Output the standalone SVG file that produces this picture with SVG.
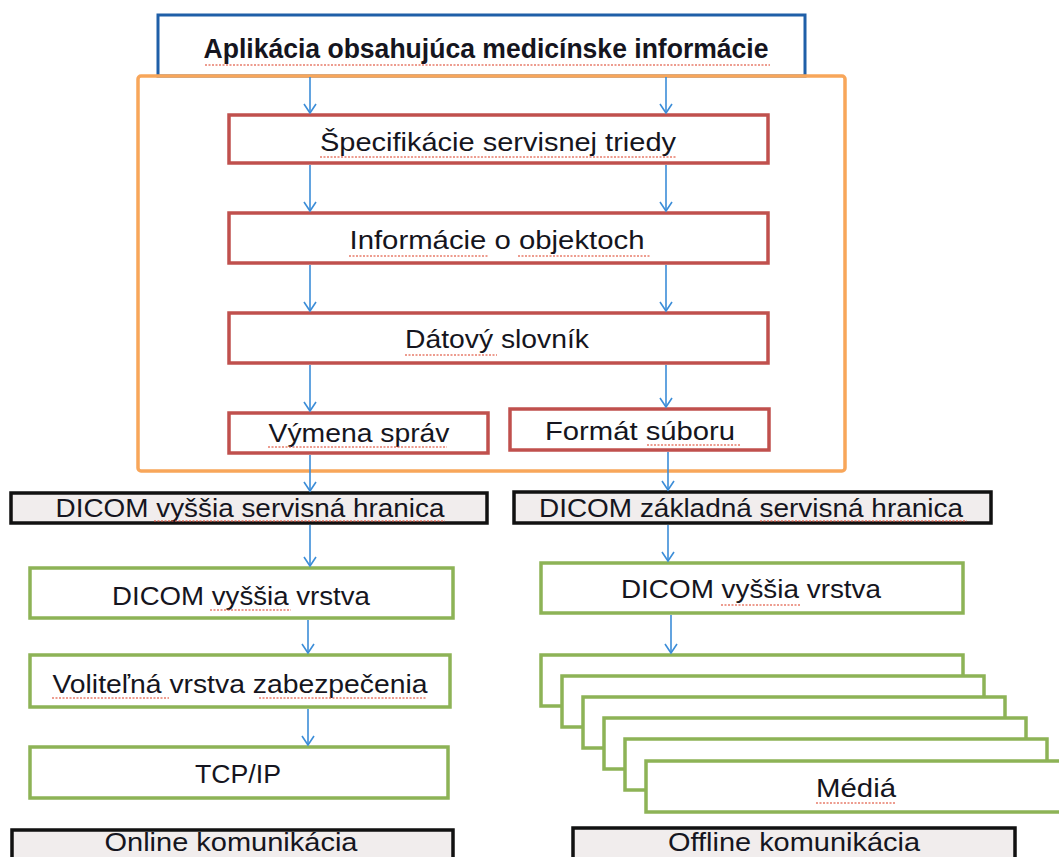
<svg xmlns="http://www.w3.org/2000/svg" width="1059" height="857" viewBox="0 0 1059 857">
<style>
  .t{font-family:"Liberation Sans",Arial,sans-serif;font-size:25px;fill:#151520;text-anchor:middle}
  .title{font-weight:bold;font-size:28px}
  .red{fill:#fff;stroke:#C0504D;stroke-width:3.5}
  .grn{fill:#fff;stroke:#8DB356;stroke-width:3.5}
  .blk{fill:#f1eded;stroke:#111;stroke-width:3.5}
  .conn line{stroke:#3C8DD8;stroke-width:1.6;fill:none}
  .sp{stroke:#E0503A;stroke-width:1.3;stroke-dasharray:2 1.5;opacity:.75}
</style>
<defs>
  <marker id="ah" markerUnits="userSpaceOnUse" markerWidth="12" markerHeight="14" viewBox="0 -7 12 14" refX="10" refY="0" orient="auto">
    <path d="M1,-6 L10,0 L1,6" fill="none" stroke="#3C8DD8" stroke-width="1.6"/>
  </marker>
</defs>
<rect width="1059" height="857" fill="#fff"/>

<g id="app">
  <rect x="158" y="15" width="647" height="61" fill="#fff" stroke="#1F5FA8" stroke-width="3"/>
  <text class="t title" x="486" y="58" textLength="565" lengthAdjust="spacingAndGlyphs">Aplikácia obsahujúca medicínske informácie</text>
  <line class="sp" x1="205" y1="65" x2="770" y2="65"/>
</g>

<g id="dicom-container">
  <rect x="138" y="76" width="707" height="395" rx="3" fill="none" stroke="#F8A65A" stroke-width="3.5"/>
</g>

<g id="spec">
  <rect class="red" x="229" y="115" width="539" height="48"/>
  <text class="t" x="498" y="151" textLength="356" lengthAdjust="spacingAndGlyphs">Špecifikácie servisnej triedy</text>
  <line class="sp" x1="320" y1="157" x2="676" y2="157"/>
</g>

<g id="info">
  <rect class="red" x="229" y="213" width="539" height="50"/>
  <text class="t" x="497" y="249" textLength="295" lengthAdjust="spacingAndGlyphs">Informácie o objektoch</text>
  <line class="sp" x1="349" y1="256" x2="488" y2="256"/>
  <line class="sp" x1="518" y1="256" x2="651" y2="256"/>
</g>

<g id="slovnik">
  <rect class="red" x="229" y="313" width="539" height="50"/>
  <text class="t" x="497" y="348" textLength="184" lengthAdjust="spacingAndGlyphs">Dátový slovník</text>
  <line class="sp" x1="405" y1="355" x2="497" y2="355"/>
</g>

<g id="vymena">
  <rect class="red" x="229" y="413" width="259" height="40"/>
  <text class="t" x="359" y="442" textLength="181" lengthAdjust="spacingAndGlyphs">Výmena správ</text>
  <line class="sp" x1="268" y1="447" x2="447" y2="447"/>
</g>

<g id="format">
  <rect class="red" x="510" y="409" width="259" height="41"/>
  <text class="t" x="640" y="440" textLength="190" lengthAdjust="spacingAndGlyphs">Formát súboru</text>
  <line class="sp" x1="647" y1="445" x2="741" y2="445"/>
</g>

<g id="hranica-vyssia">
  <rect class="blk" x="11" y="493" width="476" height="30"/>
  <text class="t" x="250" y="517" textLength="389" lengthAdjust="spacingAndGlyphs">DICOM vyššia servisná hranica</text>
  <line class="sp" x1="154" y1="521" x2="445" y2="521"/>
</g>

<g id="hranica-zakladna">
  <rect class="blk" x="514" y="492" width="477" height="31"/>
  <text class="t" x="751" y="517" textLength="424" lengthAdjust="spacingAndGlyphs">DICOM základná servisná hranica</text>
  <line class="sp" x1="760" y1="521" x2="967" y2="521"/>
</g>

<g id="vrstva-left">
  <rect class="grn" x="30" y="568" width="423" height="50"/>
  <text class="t" x="241" y="605" textLength="258" lengthAdjust="spacingAndGlyphs">DICOM vyššia vrstva</text>
  <line class="sp" x1="210" y1="610" x2="291" y2="610"/>
</g>

<g id="zabezpecenie">
  <rect class="grn" x="30" y="655" width="420" height="52"/>
  <text class="t" x="240" y="693" textLength="375" lengthAdjust="spacingAndGlyphs">Voliteľná vrstva zabezpečenia</text>
  <line class="sp" x1="52" y1="698" x2="169" y2="698"/>
  <line class="sp" x1="259" y1="698" x2="427" y2="698"/>
</g>

<g id="tcpip">
  <rect class="grn" x="30" y="747" width="418" height="51"/>
  <text class="t" x="238" y="783" textLength="86" lengthAdjust="spacingAndGlyphs">TCP/IP</text>
</g>

<g id="online">
  <rect class="blk" x="12" y="830" width="441" height="45"/>
  <text class="t" x="231" y="851" textLength="253" lengthAdjust="spacingAndGlyphs">Online komunikácia</text>
</g>

<g id="vrstva-right">
  <rect class="grn" x="541" y="563" width="422" height="50"/>
  <text class="t" x="751" y="598" textLength="260" lengthAdjust="spacingAndGlyphs">DICOM vyššia vrstva</text>
  <line class="sp" x1="721" y1="605" x2="801" y2="605"/>
</g>

<g id="media">
  <rect class="grn" x="541" y="655" width="422" height="51"/>
  <rect class="grn" x="562" y="676" width="422" height="51"/>
  <rect class="grn" x="583" y="697" width="422" height="51"/>
  <rect class="grn" x="604" y="718" width="422" height="51"/>
  <rect class="grn" x="625" y="739" width="422" height="51"/>
  <rect class="grn" x="646" y="761" width="422" height="51"/>
  <text class="t" x="856" y="797" textLength="80" lengthAdjust="spacingAndGlyphs">Médiá</text>
  <line class="sp" x1="816" y1="803" x2="896" y2="803"/>
</g>

<g id="offline">
  <rect class="blk" x="573" y="828" width="442" height="45"/>
  <text class="t" x="794" y="851" textLength="252" lengthAdjust="spacingAndGlyphs">Offline komunikácia</text>
</g>

<g id="connectors" class="conn">
  <line x1="310" y1="77" x2="310" y2="113" marker-end="url(#ah)"/>
  <line x1="310" y1="165" x2="310" y2="211" marker-end="url(#ah)"/>
  <line x1="310" y1="265" x2="310" y2="311" marker-end="url(#ah)"/>
  <line x1="310" y1="365" x2="310" y2="411" marker-end="url(#ah)"/>
  <line x1="310" y1="455" x2="310" y2="491" marker-end="url(#ah)"/>
  <line x1="310" y1="525" x2="310" y2="566" marker-end="url(#ah)"/>
  <line x1="308" y1="620" x2="308" y2="653" marker-end="url(#ah)"/>
  <line x1="308" y1="709" x2="308" y2="745" marker-end="url(#ah)"/>
  <line x1="666" y1="77" x2="666" y2="113" marker-end="url(#ah)"/>
  <line x1="666" y1="165" x2="666" y2="211" marker-end="url(#ah)"/>
  <line x1="666" y1="265" x2="666" y2="311" marker-end="url(#ah)"/>
  <line x1="666" y1="365" x2="666" y2="407" marker-end="url(#ah)"/>
  <line x1="668" y1="452" x2="668" y2="490" marker-end="url(#ah)"/>
  <line x1="668" y1="525" x2="668" y2="561" marker-end="url(#ah)"/>
  <line x1="671" y1="615" x2="671" y2="653" marker-end="url(#ah)"/>
</g>
</svg>
